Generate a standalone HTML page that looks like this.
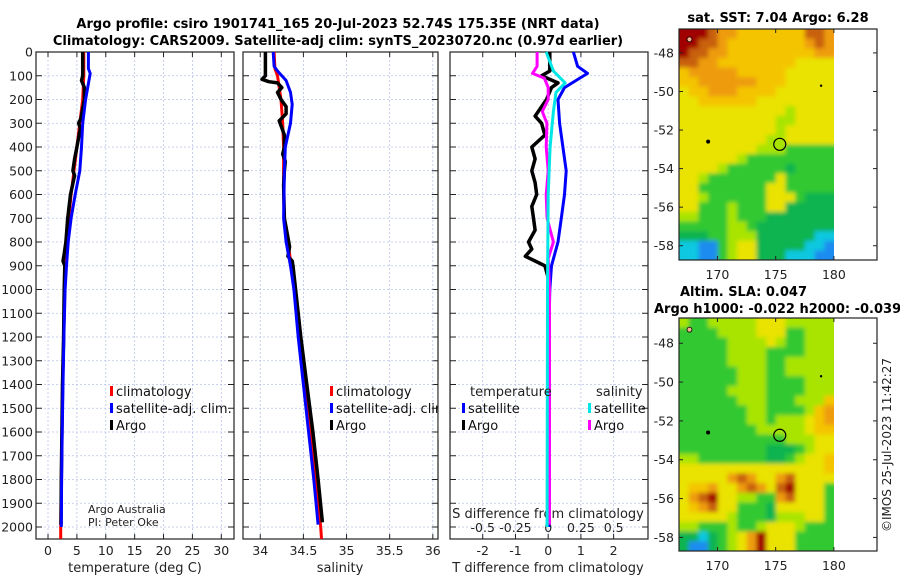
<!DOCTYPE html>
<html><head><meta charset="utf-8">
<style>
html,body{margin:0;padding:0;background:#fff;}
svg{display:block;font-family:"DejaVu Sans","Liberation Sans",sans-serif;}
</style></head>
<body>
<svg id="fig" width="900" height="580" viewBox="0 0 900 580">
<defs>
<filter id="soft" x="-5%" y="-5%" width="110%" height="110%"><feGaussianBlur stdDeviation="2.2"/></filter>
<clipPath id="clipSst"><rect x="679" y="29" width="155" height="231"/></clipPath>
<clipPath id="clipSla"><rect x="679" y="318" width="155" height="233"/></clipPath>
</defs>
<text x="338" y="28" text-anchor="middle" font-size="13" font-weight="bold">Argo profile: csiro 1901741_165 20-Jul-2023 52.74S 175.35E (NRT data)</text>
<text x="338" y="45" text-anchor="middle" font-size="13" font-weight="bold">Climatology: CARS2009. Satellite-adj clim: synTS_20230720.nc (0.97d earlier)</text>
<text x="778" y="22" text-anchor="middle" font-size="13" font-weight="bold">sat. SST: 7.04 Argo: 6.28</text>
<text x="680" y="296" font-size="13" font-weight="bold">Altim. SLA: 0.047</text>
<text x="654" y="313" font-size="13" font-weight="bold">Argo h1000: -0.022 h2000: -0.039</text>
<text transform="translate(891,445) rotate(-90)" text-anchor="middle" font-size="12" fill="#222">©IMOS 25-Jul-2023 11:42:27</text>
<g id="g"></g>
</svg>
<script>
// ---------- data ----------
const depthTicks = [0,100,200,300,400,500,600,700,800,900,1000,1100,1200,1300,1400,1500,1600,1700,1800,1900,2000];
const tempTicks = [0,5,10,15,20,25,30];
const salTicks = [34,34.5,35,35.5,36];
const tdiffTicks = [-2,-1,0,1,2];
const sdiffTicks = [-0.5,-0.25,0,0.25,0.5];
const sdiffTickLabels = ["-0.5","-0.25","0","0.25","0.5"];

const climTDepth = [0,100,200,300,400,500,600,700,800,900,1000,1200,1400,1600,1800,2000,2050];
const climTVal   = [6.2,6.2,6.0,5.5,5.0,4.5,4.0,3.6,3.3,3.1,2.9,2.7,2.5,2.4,2.3,2.2,2.2];
const satTDepth  = [0,70,90,200,300,400,500,600,700,800,900,1000,1200,1400,1600,1800,2000];
const satTVal    = [7.0,7.0,7.3,6.5,6.0,5.8,5.5,4.7,4.0,3.5,3.2,2.95,2.75,2.6,2.45,2.35,2.3];
const argoTDepth = [0,100,120,150,200,280,300,320,400,450,500,520,600,700,800,850,880,900,1000,1200,1400,1600,1800,1990];
const argoTVal   = [6.0,6.0,5.8,6.3,6.3,5.7,5.3,5.6,5.0,4.6,4.3,4.6,3.9,3.4,3.1,2.8,2.6,2.9,2.8,2.7,2.5,2.4,2.3,2.25];

const climSDepth = [0,70,100,200,300,400,500,600,700,800,900,1000,1200,1400,1600,1800,2000,2050];
const climSVal   = [34.16,34.17,34.2,34.24,34.26,34.27,34.27,34.27,34.28,34.32,34.36,34.40,34.45,34.52,34.58,34.64,34.70,34.71];
const satSDepth  = [0,60,80,120,170,220,300,400,500,700,800,900,1000,1200,1400,1600,1800,1990];
const satSVal    = [34.15,34.16,34.2,34.3,34.35,34.37,34.35,34.29,34.28,34.27,34.30,34.35,34.39,34.44,34.5,34.56,34.62,34.67];
const argoSDepth = [0,100,115,125,130,150,170,200,230,260,290,310,350,400,430,460,500,560,700,780,820,860,880,900,1000,1200,1400,1600,1800,1980];
const argoSVal   = [34.06,34.06,34.02,34.1,34.2,34.25,34.2,34.24,34.3,34.3,34.22,34.24,34.28,34.28,34.26,34.29,34.28,34.27,34.28,34.32,34.34,34.32,34.37,34.38,34.41,34.47,34.54,34.61,34.67,34.72];

const dTsatDepth  = [0,60,90,150,200,300,400,500,600,700,800,900,1000,1200,2000];
const dTsatVal    = [0.77,0.9,1.2,0.5,0.3,0.35,0.45,0.55,0.5,0.4,0.3,0.1,0.05,0.02,0.02];
const dTargoDepth = [0,80,100,130,150,200,270,300,350,400,450,500,550,600,650,700,750,800,830,860,880,900,950,1200,1990];
const dTargoVal   = [0.05,0.05,-0.2,0.3,0.1,-0.05,-0.4,-0.2,-0.1,-0.5,-0.4,-0.5,-0.4,-0.35,-0.5,-0.45,-0.4,-0.6,-0.5,-0.7,-0.4,-0.1,0,0.02,0.02];
const dSsatDepth  = [0,80,130,170,250,400,600,1000,2000];
const dSsatVal    = [-0.015,0.04,0.13,0.06,0.04,0.015,0.0,-0.005,-0.008];
const dSargoDepth = [0,60,90,110,150,200,250,300,400,500,600,700,800,870,1000,1990];
const dSargoVal   = [-0.085,-0.085,-0.12,-0.03,0.0,0.0,-0.045,-0.01,-0.015,0.0,-0.015,-0.008,0.04,0.0,0.01,0.01];

// map fields: colour level codes 0..9 per cell (rows north->south, cols west->east)
const sstRows = [
"9998776666666887","9988766666666787","9887766666666677","8877666666665555",
"6777776666655555","6677777766655555","5667776666555555","5566666655555555",
"5555555555545555","5555555555445555","5555555555455555","5555555554455555",
"5555555544433333","5555554333333333","5555433333323333","5543333333533333",
"5533333335533333","5543333335553222","5533343335522222","4433343332222222",
"3333344322222222","2223344422222211","1100345522222110","1100345522211100"];
const slaRows = [
"4334444455544444","3333444455533444","3333344445433444","3333344443333444",
"3333344443344444","3333334443344444","3333334443333444","3333344443333444",
"3333334443334446","3333333443333467","3333333443444567","3333333344444566",
"3333333333344455","3333333332223455","4433333332234556","5555555555555556",
"5555578755785555","5667557875895553","5789554433785553","5678553332555553",
"5555543332444553","4433343345554333","2212345795553333","2002345795553333"];
const levelColors = ["#1e8cf0","#10c8e0","#10b450","#30c830","#a8e400","#eae200","#f4c400","#ee9c10","#c86010","#a00000"];
const argoLon = 175.35, argoLat = -52.74;

// ---------- drawing ----------
const NS="http://www.w3.org/2000/svg";
const G=document.getElementById('g');
function el(tag,attrs,parent){const e=document.createElementNS(NS,tag);for(const k in attrs)e.setAttribute(k,attrs[k]);(parent||G).appendChild(e);return e;}

const yTop=52, yPer=475/2000;
function yD(d){return yTop+d*yPer;}
const plotBottom=539;

function panel(name,x0,x1,vmin,vmax){
  const sx=v=>x0+(v-vmin)/(vmax-vmin)*(x1-x0);
  return {name,x0,x1,sx};
}
const P1=panel('temperature',36,234,-2.08,32.2);
const P2=panel('salinity',243,438,33.80,36.06);
const P3=panel('difference',450,648,-3.0,3.05);

function frame(p,xt,xlabels){
  const g=el('g',{});
  
  
  depthTicks.forEach(d=>{
    const y=yD(d);
    const l=el('line',{x1:p.x0,x2:p.x1,y1:y,y2:y,stroke:'#b8c4e8','stroke-width':0.8,'stroke-dasharray':'2,2'},g);
    
    
    el('line',{x1:p.x0,x2:p.x0+6,y1:y,y2:y,stroke:'#222','stroke-width':1},g);
    el('line',{x1:p.x1-6,x2:p.x1,y1:y,y2:y,stroke:'#222','stroke-width':1},g);
  });
  xt.forEach((v,i)=>{
    const x=p.sx(v);
    const l=el('line',{x1:x,x2:x,y1:yTop,y2:plotBottom,stroke:'#b8c4e8','stroke-width':0.8,'stroke-dasharray':'2,2'},g);
    
    
    el('line',{x1:x,x2:x,y1:plotBottom,y2:plotBottom-5,stroke:'#222'},g);
    el('line',{x1:x,x2:x,y1:yTop,y2:yTop+5,stroke:'#222'},g);
    if(xlabels){
      const t=el('text',{x:x,y:555,'text-anchor':'middle','font-size':12.5,fill:'#222'},g);
      t.textContent=xlabels[i];
      
      
    }
  });
  const r=el('rect',{x:p.x0,y:yTop,width:p.x1-p.x0,height:plotBottom-yTop,fill:'none',stroke:'#222','stroke-width':1.2},g);
  
  
  return g;
}
frame(P1,tempTicks,tempTicks.map(String));
frame(P2,salTicks,salTicks.map(String));
frame(P3,tdiffTicks,tdiffTicks.map(String));

depthTicks.forEach(d=>{
  const t=el('text',{x:33,y:yD(d)+4.5,'text-anchor':'end','font-size':12.5,fill:'#222'});
  t.textContent=String(d);
  
  
});
sdiffTicks.forEach((v,i)=>{
  const t=el('text',{x:P3.sx(v*4),y:532,'text-anchor':'middle','font-size':12.5,fill:'#222'});
  t.textContent=sdiffTickLabels[i];
  
  
});
function label(x,y,txt,name,size,anchor){
  const t=el('text',{x:x,y:y,'text-anchor':anchor||'middle','font-size':size||13,fill:'#222'});
  t.textContent=txt;
  
  
  return t;
}
label(135,572,'temperature (deg C)','temperature-axis-title');
label(340,572,'salinity','salinity-axis-title');
label(548,572,'T difference from climatology','t-diff-axis-title');
label(548,518,'S difference from climatology','s-diff-axis-title');
label(88,513,'Argo Australia','credit-line-1',11,'start');
label(88,526,'PI: Peter Oke','credit-line-2',11,'start');

function series(p,depths,vals,color,width,name,scale){
  const pts=depths.map((d,i)=>p.sx(vals[i]*(scale||1)).toFixed(1)+','+yD(d).toFixed(1)).join(' ');
  const l=el('polyline',{points:pts,fill:'none',stroke:color,'stroke-width':width,'stroke-linejoin':'round'});
  
  
}
series(P1,climTDepth,climTVal,'#ff0000',3,'temp-climatology-line');
series(P1,argoTDepth,argoTVal,'#000',3.5,'temp-argo-line');
series(P1,satTDepth,satTVal,'#0000ff',3,'temp-satellite-line');
series(P2,climSDepth,climSVal,'#ff0000',3,'sal-climatology-line');
series(P2,argoSDepth,argoSVal,'#000',3.5,'sal-argo-line');
series(P2,satSDepth,satSVal,'#0000ff',3,'sal-satellite-line');
series(P3,dTsatDepth,dTsatVal,'#0000ff',3,'tdiff-satellite-line');
series(P3,dTargoDepth,dTargoVal,'#000',3.5,'tdiff-argo-line');
series(P3,dSargoDepth,dSargoVal,'#ff00ff',3,'sdiff-argo-line',4);
series(P3,dSsatDepth,dSsatVal,'#00e5e5',3,'sdiff-satellite-line',4);

function legendEntry(x,y,color,txt,name){
  const g=el('g',{});
  
  
  el('rect',{x:x,y:y-10,width:3,height:10,fill:color},g);
  const t=el('text',{x:x+6,y:y,'font-size':13,fill:'#111'},g);
  t.textContent=txt;
}
legendEntry(110,396,'#ff0000','climatology','legend-temp-climatology');
legendEntry(110,413,'#0000ff','satellite-adj. clim.','legend-temp-satellite');
legendEntry(110,430,'#000','Argo','legend-temp-argo');
legendEntry(330,396,'#ff0000','climatology','legend-sal-climatology');
legendEntry(330,413,'#0000ff','satellite-adj. clim.','legend-sal-satellite');
legendEntry(330,430,'#000','Argo','legend-sal-argo');
label(470,396,'temperature','legend-temperature-heading',13,'start');
legendEntry(462,413,'#0000ff','satellite','legend-tdiff-satellite');
legendEntry(462,430,'#000','Argo','legend-tdiff-argo');
label(596,396,'salinity','legend-salinity-heading',13,'start');
legendEntry(588,413,'#00e5e5','satellite','legend-sdiff-satellite');
legendEntry(588,430,'#ff00ff','Argo','legend-sdiff-argo');
el('rect',{x:438.6,y:380,width:11,height:60,fill:'#fff'});
el('line',{x1:450,x2:450,y1:380,y2:440,stroke:'#222','stroke-width':1.2});

// ---------- maps ----------
const lonMin=166.7,lonMax=183.7,imgLonMax=180.0;
function map(rows,top,bottom,latTop,latBot,name,clipId){
  const x0=679,x1=877;
  const sx=lon=>x0+(lon-lonMin)/(lonMax-lonMin)*(x1-x0);
  const sy=lat=>top+(latTop-lat)/(latTop-latBot)*(bottom-top);
  const g=el('g',{});
  
  
  const clipG=el('g',{'clip-path':'url(#'+clipId+')'},g);
  const cells=el('g',{filter:'url(#soft)'},clipG);
  const nr=rows.length,nc=rows[0].length;
  const cw=(sx(imgLonMax)-x0)/nc, ch=(bottom-top)/nr;
  rows.forEach((row,r)=>{
    for(let c=0;c<nc;c++){
      let x=x0+c*cw, y=top+r*ch, w=cw+0.6, h=ch+0.6;
      if(c===0){x-=6;w+=6;} if(c===nc-1){w+=6;}
      if(r===0){y-=6;h+=6;} if(r===nr-1){h+=6;}
      const cell=el('rect',{x:x.toFixed(2),y:y.toFixed(2),width:w.toFixed(2),height:h.toFixed(2),fill:levelColors[+row[c]]},cells);
      
      
    }
  });
  const c=el('circle',{cx:sx(argoLon),cy:sy(argoLat),r:6,fill:'none',stroke:'#000','stroke-width':1.2},g);
  
  
  el('circle',{cx:sx(169.2),cy:sy(-52.6),r:2,fill:'#000'},g);
  el('circle',{cx:sx(178.9),cy:sy(-49.7),r:1.2,fill:'#000'},g);
  el('circle',{cx:sx(167.6),cy:sy(-47.3),r:2.5,fill:'#f4b090',stroke:'#000','stroke-width':0.8},g);
  const fr=el('rect',{x:x0,y:top,width:x1-x0,height:bottom-top,fill:'none',stroke:'#222','stroke-width':1.2},g);
  
  
  [-48,-50,-52,-54,-56,-58].forEach(lat=>{
    const y=sy(lat);
    el('line',{x1:x0,x2:x0+4,y1:y,y2:y,stroke:'#222'},g);
    el('line',{x1:x1-4,x2:x1,y1:y,y2:y,stroke:'#222'},g);
    const t=el('text',{x:x0-5,y:y+4.5,'text-anchor':'end','font-size':12.5,fill:'#222'},g);
    t.textContent=String(lat);
    
    
  });
  [170,175,180].forEach(lon=>{
    const x=sx(lon);
    el('line',{x1:x,x2:x,y1:bottom,y2:bottom-4,stroke:'#222'},g);
    el('line',{x1:x,x2:x,y1:top,y2:top+4,stroke:'#222'},g);
    const t=el('text',{x:x,y:bottom+19,'text-anchor':'middle','font-size':12.5,fill:'#222'},g);
    t.textContent=String(lon);
    
    
  });
}
map(sstRows,29,260,-46.76,-58.74,'sst-map','clipSst');
map(slaRows,318,551,-46.7,-58.7,'sla-map','clipSla');
</script>
</body></html>
